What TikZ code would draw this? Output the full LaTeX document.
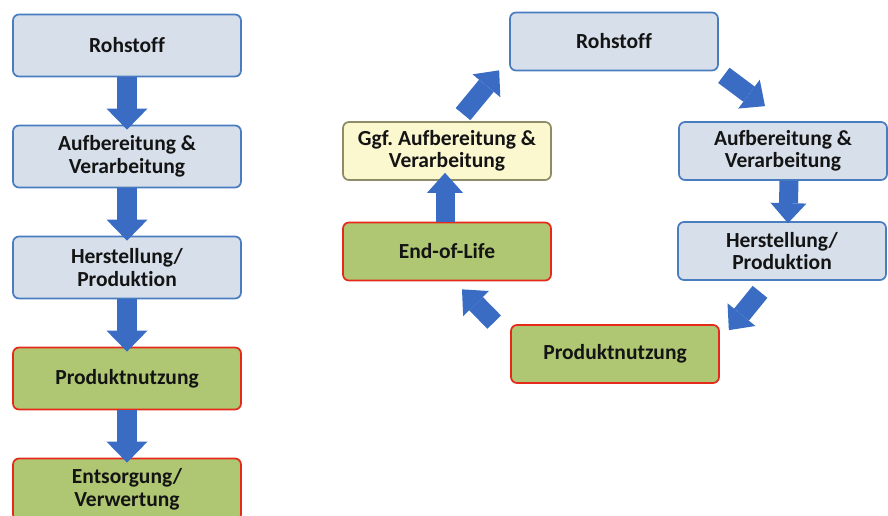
\documentclass[tikz,border=0pt]{standalone}
\usepackage{fontspec}
\setmainfont{Carlito}[Ligatures=NoCommon]
\frenchspacing
\usetikzlibrary{arrows.meta}

\definecolor{boxblue}{HTML}{D6DFEA}
\definecolor{lineblue}{HTML}{4A7CC0}
\definecolor{boxgreen}{HTML}{AFC672}
\definecolor{linered}{HTML}{E52A1C}
\definecolor{boxyellow}{HTML}{FBF7CF}
\definecolor{lineolive}{HTML}{8E8C66}
\definecolor{arrowblue}{HTML}{3A6CC4}

\tikzset{
  box/.style={rounded corners=6pt, line width=1.7pt, align=center, inner sep=0pt,
    font=\fontsize{21.5}{22.5}\selectfont\bfseries, text=black!92},
  bluebox/.style={box, draw=lineblue, fill=boxblue},
  greenbox/.style={box, draw=linered, fill=boxgreen},
  yellowbox/.style={box, draw=lineolive, fill=boxyellow},
  leftbox/.style={minimum width=228pt, minimum height=62pt},
  rightbox/.style={minimum width=208pt, minimum height=58pt},
  blockarrow/.style={draw=arrowblue, line width=20pt,
    -{Triangle[width=41pt,length=21pt,line width=0pt]}},
  cyclearrow/.style={draw=arrowblue, line width=19pt,
    -{Triangle[width=36pt,length=20pt,line width=0pt]}},
}

\begin{document}
\begin{tikzpicture}[x=1pt,y=1pt]
    \useasboundingbox (0,0) rectangle (888,516);
    \clip (0,0) rectangle (888,516);

    % linear chain
    \node[bluebox,leftbox]  (rohL) at (127,470.5) {Rohstoff};
    \node[bluebox,leftbox]  (aufL) at (127,359.5) {Aufbereitung \&\\Verarbeitung};
    \node[bluebox,leftbox]  (herL) at (127,248.5) {Herstellung/\\Produktion};
    \node[greenbox,leftbox] (nutL) at (127,137.5) {Produktnutzung};
    \node[greenbox,leftbox] (entL) at (127,26.5)  {Entsorgung/\\Verwertung};
    \foreach \a/\b in {rohL/aufL, aufL/herL, herL/nutL, nutL/entL}
      \draw[blockarrow] (\a.south) -- ([yshift=-5pt]\b.north);

    % cycle
    \node[bluebox,rightbox]   (rohR) at (614,474.5) {Rohstoff};
    \node[bluebox,rightbox]   (aufR) at (783,365)   {Aufbereitung \&\\Verarbeitung};
    \node[bluebox,rightbox]   (herR) at (782,265)   {Herstellung/\\Produktion};
    \node[greenbox,rightbox]  (nutR) at (615,162)   {Produktnutzung};
    \node[greenbox,rightbox]  (eol)  at (447,264.5) {End-of-Life};
    \node[yellowbox,rightbox] (ggf)  at (447,365)   {Ggf. Aufbereitung \&\\Verarbeitung};

    \draw[cyclearrow] ([shift={(16,7)}]ggf.north) -- ([shift={(-10,1)}]rohR.south west);
    \draw[cyclearrow] ([shift={(5,-4)}]rohR.south east) -- ([shift={(-18,15)}]aufR.north);
    \draw[cyclearrow] ([xshift=6pt]aufR.south) -- ([xshift=6pt,yshift=-2pt]herR.north);
    \draw[cyclearrow] ([shift={(-22,-11)}]herR.south) -- ([shift={(9,-6)}]nutR.north east);
    \draw[cyclearrow] ([shift={(-16,2)}]nutR.north west) -- ([shift={(15,-8)}]eol.south);
    \draw[cyclearrow] ([xshift=-2pt]eol.north) -- ([xshift=-2pt,yshift=8pt]ggf.south);
\end{tikzpicture}
\end{document}
